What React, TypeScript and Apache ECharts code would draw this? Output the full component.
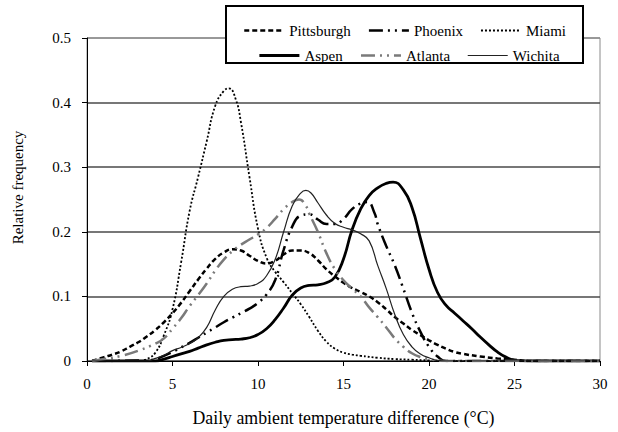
import React, { useEffect, useRef } from "react";
import * as echarts from "echarts";

// Relative frequency of the daily ambient temperature difference (°C), per city
const pittsburgh: [number, number][] = [
  [0.3, 0], [1, 0.006], [1.5, 0.01], [2, 0.015], [2.5, 0.022], [3, 0.029], [3.5, 0.038],
  [4, 0.048], [4.5, 0.06], [5, 0.074], [5.5, 0.09], [6, 0.108], [6.5, 0.126], [7, 0.143],
  [7.5, 0.158], [8, 0.168], [8.5, 0.173], [9, 0.171], [9.5, 0.163], [10, 0.155], [10.5, 0.151],
  [11, 0.155], [11.5, 0.165], [12, 0.171], [12.5, 0.171], [13, 0.167], [13.5, 0.156],
  [14, 0.142], [14.5, 0.131], [15, 0.121], [15.5, 0.113], [16, 0.107], [16.5, 0.1],
  [17, 0.091], [17.5, 0.08], [18, 0.068], [18.5, 0.058], [19, 0.048], [19.5, 0.04],
  [20, 0.032], [20.5, 0.025], [21, 0.019], [21.5, 0.014], [22, 0.011], [23, 0.007],
  [24, 0.004], [25, 0.002], [26, 0], [30, 0],
];

const phoenix: [number, number][] = [
  [0.3, 0], [3.5, 0.001], [4, 0.003], [4.5, 0.008], [5, 0.014], [5.5, 0.021], [6, 0.028],
  [6.5, 0.036], [7, 0.044], [7.5, 0.052], [8, 0.06], [8.5, 0.067], [9, 0.074], [9.5, 0.081],
  [10, 0.09], [10.5, 0.103], [11, 0.125], [11.5, 0.172], [12, 0.208], [12.5, 0.225],
  [13, 0.227], [13.5, 0.219], [14, 0.212], [14.5, 0.212], [15, 0.22], [15.5, 0.235],
  [16, 0.244], [16.4, 0.246], [16.8, 0.23], [17, 0.212], [17.5, 0.178], [18, 0.148],
  [18.5, 0.112], [19, 0.075], [19.5, 0.045], [20, 0.022], [20.5, 0.007], [21, 0], [30, 0],
];

const miami: [number, number][] = [
  [0.3, 0], [3, 0], [3.5, 0.003], [4, 0.013], [4.5, 0.04], [5, 0.08], [5.5, 0.152],
  [6, 0.232], [6.5, 0.285], [7, 0.34], [7.5, 0.395], [8, 0.418], [8.3, 0.422], [8.7, 0.405],
  [9, 0.37], [9.5, 0.285], [10, 0.205], [10.5, 0.16], [11, 0.138], [11.5, 0.122],
  [12, 0.105], [12.5, 0.088], [13, 0.068], [13.5, 0.047], [14, 0.03], [14.5, 0.019],
  [15, 0.013], [15.5, 0.01], [16, 0.008], [17, 0.005], [18, 0.003], [19, 0.002],
  [20, 0.001], [21, 0], [30, 0],
];

const aspen: [number, number][] = [
  [0.3, 0], [4, 0], [4.5, 0.003], [5, 0.007], [5.5, 0.011], [6, 0.015], [6.5, 0.02],
  [7, 0.025], [7.5, 0.029], [8, 0.032], [8.5, 0.033], [9, 0.034], [9.5, 0.036], [10, 0.041],
  [10.5, 0.05], [11, 0.064], [11.5, 0.082], [12, 0.102], [12.5, 0.113], [13, 0.117],
  [13.5, 0.118], [14, 0.121], [14.5, 0.13], [15, 0.158], [15.5, 0.203], [16, 0.235],
  [16.5, 0.256], [17, 0.268], [17.5, 0.275], [17.9, 0.277], [18.5, 0.265], [19, 0.238],
  [19.5, 0.19], [20, 0.142], [20.5, 0.106], [21, 0.086], [21.5, 0.074], [22, 0.062],
  [22.5, 0.05], [23, 0.037], [23.5, 0.025], [24, 0.014], [24.5, 0.006], [25, 0.001],
  [26, 0], [30, 0],
];

const atlanta: [number, number][] = [
  [0.3, 0], [1, 0.003], [2, 0.008], [3, 0.016], [4, 0.027], [4.5, 0.035], [5, 0.05],
  [5.5, 0.066], [6, 0.085], [6.5, 0.102], [7, 0.12], [7.5, 0.14], [8, 0.157], [8.5, 0.17],
  [9, 0.18], [9.5, 0.188], [10, 0.196], [10.5, 0.206], [11, 0.22], [11.5, 0.235],
  [12, 0.246], [12.4, 0.25], [12.8, 0.24], [13, 0.228], [13.5, 0.2], [14, 0.167],
  [14.5, 0.142], [15, 0.125], [15.5, 0.112], [16, 0.1], [16.5, 0.083], [17, 0.068],
  [17.5, 0.052], [18, 0.035], [18.5, 0.022], [19, 0.012], [19.5, 0.006], [20, 0.003],
  [20.5, 0.001], [21, 0], [30, 0],
];

const wichita: [number, number][] = [
  [0.3, 0], [3.5, 0], [4, 0.004], [4.5, 0.009], [5, 0.016], [5.5, 0.021], [6, 0.027],
  [6.5, 0.036], [7, 0.052], [7.5, 0.079], [8, 0.1], [8.5, 0.111], [9, 0.115], [9.5, 0.116],
  [10, 0.12], [10.5, 0.132], [11, 0.157], [11.5, 0.2], [12, 0.24], [12.5, 0.26],
  [12.8, 0.264], [13.1, 0.26], [13.5, 0.245], [14, 0.226], [14.5, 0.213], [15, 0.207],
  [15.5, 0.203], [16, 0.197], [16.5, 0.186], [17, 0.148], [17.5, 0.112], [18, 0.072],
  [18.5, 0.041], [19, 0.022], [19.5, 0.011], [20, 0.005], [20.5, 0.001], [21, 0], [30, 0],
];

const legendRow1 = ["Pittsburgh", "Phoenix", "Miami"];
const legendRow2 = ["Aspen", "Atlanta", "Wichita"];

const FONT = "Liberation Serif";

function lineSeries(name: string, data: [number, number][], lineStyle: any) {
  return {
    name,
    type: "line",
    data,
    symbol: "none",
    showSymbol: false,
    smooth: 0.5,
    lineStyle: { cap: "butt", ...lineStyle },
    z: 2,
  };
}

export default function App() {
  const ref = useRef<HTMLDivElement>(null);

  useEffect(() => {
    if (!ref.current) return;
    const chart = echarts.init(ref.current, undefined, { renderer: "svg" });
    const legendCommon = {
      orient: "horizontal",
      itemWidth: 40,
      itemHeight: 14,
      itemGap: 17,
      itemStyle: { opacity: 0 },
      lineStyle: { width: "inherit" },
      textStyle: { fontFamily: FONT, fontSize: 15, color: "#000" },
      selectedMode: false,
      z: 10,
    };
    chart.setOption({
      animation: false,
      backgroundColor: "#fff",
      textStyle: { fontFamily: FONT },
      grid: {
        left: 87,
        right: 18,
        top: 38,
        bottom: 69,
        show: true,
        borderColor: "#8a8a8a",
        borderWidth: 1,
      },
      graphic: [
        {
          type: "rect",
          z: 8,
          shape: { x: 226, y: 6, width: 357, height: 57 },
          style: { fill: "#fff", stroke: "#000", lineWidth: 2 },
        },
      ],
      legend: [
        { ...legendCommon, data: legendRow1, left: 238, top: 18 },
        { ...legendCommon, data: legendRow2, left: 253, top: 43 },
      ],
      xAxis: {
        type: "value",
        min: 0,
        max: 30,
        interval: 5,
        name: "Daily ambient temperature difference (°C)",
        nameLocation: "middle",
        nameGap: 48,
        nameTextStyle: { fontFamily: FONT, fontSize: 17.8, color: "#000" },
        axisLine: { onZero: false, lineStyle: { color: "#000", width: 1 } },
        axisTick: { show: true, inside: false, length: 5, lineStyle: { color: "#000" } },
        axisLabel: { fontFamily: FONT, fontSize: 15, color: "#000", margin: 15 },
        splitLine: { show: false },
      },
      yAxis: {
        type: "value",
        min: 0,
        max: 0.5,
        interval: 0.1,
        name: "Relative frequency",
        nameLocation: "middle",
        nameGap: 62,
        nameTextStyle: { fontFamily: FONT, fontSize: 15, color: "#000", padding: [0, 0, 0, 24] },
        axisLine: { show: true, lineStyle: { color: "#000", width: 1 } },
        axisTick: { show: true, inside: false, length: 5, lineStyle: { color: "#000" } },
        axisLabel: { fontFamily: FONT, fontSize: 15, color: "#000", margin: 16 },
        splitLine: {
          show: true,
          lineStyle: {
            color: ["#4a4a4a", "#4a4a4a", "#4a4a4a", "#4a4a4a", "#4a4a4a", "#8a8a8a"],
            width: 1.5,
          },
        },
      },
      series: [
        lineSeries("Pittsburgh", pittsburgh, { color: "#000", width: 2.5, type: [5, 3] }),
        lineSeries("Phoenix", phoenix, { color: "#000", width: 2.5, type: [14, 5, 2, 5, 2, 5] }),
        lineSeries("Miami", miami, { color: "#000", width: 1.8, type: [2, 2] }),
        lineSeries("Aspen", aspen, { color: "#000", width: 2.8, type: "solid" }),
        lineSeries("Atlanta", atlanta, { color: "#7a7a7a", width: 2.5, type: [14, 5, 2, 5, 2, 5] }),
        lineSeries("Wichita", wichita, { color: "#222", width: 1.2, type: "solid" }),
      ],
    });
    return () => chart.dispose();
  }, []);

  return (
    <div
      ref={ref}
      style={{ position: "fixed", left: 0, top: 0, width: 618, height: 432 }}
    />
  );
}
